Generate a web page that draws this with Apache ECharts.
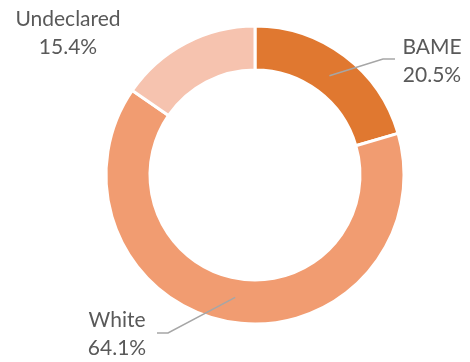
<!DOCTYPE html>
<html><head><meta charset="utf-8">
<script src="https://cdn.jsdelivr.net/npm/echarts@6/dist/echarts.min.js"></script>
<style>html,body{margin:0;padding:0;background:#fff}#c{width:470px;height:362px}</style>
</head><body><div id="c"></div>
<script>
const categories = ['BAME', 'White', 'Undeclared'];
const values = [20.5, 64.1, 15.4];
const colors = ['#E07830', '#F19C71', '#F6C3AF'];
// label block centres and leader elbows (layout only)
const labelPos = [[432, 61], [117, 334], [68, 33]];
const elbows = [[[383, 59], [395, 59]], [[168, 333], [157, 333]], null];

const cx = 255, cy = 175, rIn = 105, rOut = 149;
const total = values.reduce((a, b) => a + b, 0);
let acc = 0;
const midAngles = values.map(v => { const m = (acc + v / 2) / total * 2 * Math.PI; acc += v; return m; });

const common = {
  type: 'pie', center: [cx, cy], radius: [rIn, rOut],
  startAngle: 90, clockwise: true, avoidLabelOverlap: false
};

const chart = echarts.init(document.getElementById('c'));
chart.setOption({
  animation: false,
  series: [Object.assign({}, common, {
    z: 1,
    itemStyle: { borderColor: '#fff', borderWidth: 3 },
    label: { show: false }, labelLine: { show: false },
    data: categories.map((n, i) => ({ name: n, value: values[i], itemStyle: { color: colors[i] } }))
  }), Object.assign({}, common, {
    z: 5, silent: true,
    itemStyle: { color: 'rgba(0,0,0,0)', borderWidth: 0 },
    label: {
      show: true, position: 'outside',
      formatter: p => p.name + '\n' + p.value + '%',
      fontFamily: 'Lato', fontSize: 21, lineHeight: 28, color: '#595959', align: 'center'
    },
    labelLine: { show: true, lineStyle: { color: '#A6A6A6', width: 1.5 } },
    labelLayout: function (p) {
      const i = p.dataIndex;
      const pos = labelPos[i];
      const res = { x: pos[0], y: pos[1], align: 'center', verticalAlign: 'middle' };
      if (elbows[i]) {
        const a = midAngles[i], r = (rIn + rOut) / 2 - 3;
        res.labelLinePoints = [[cx + r * Math.sin(a), cy - r * Math.cos(a)], elbows[i][0], elbows[i][1]];
      }
      return res;
    },
    data: categories.map((n, i) => ({
      name: n, value: values[i],
      labelLine: { show: !!elbows[i] }
    }))
  })]
});
</script></body></html>
